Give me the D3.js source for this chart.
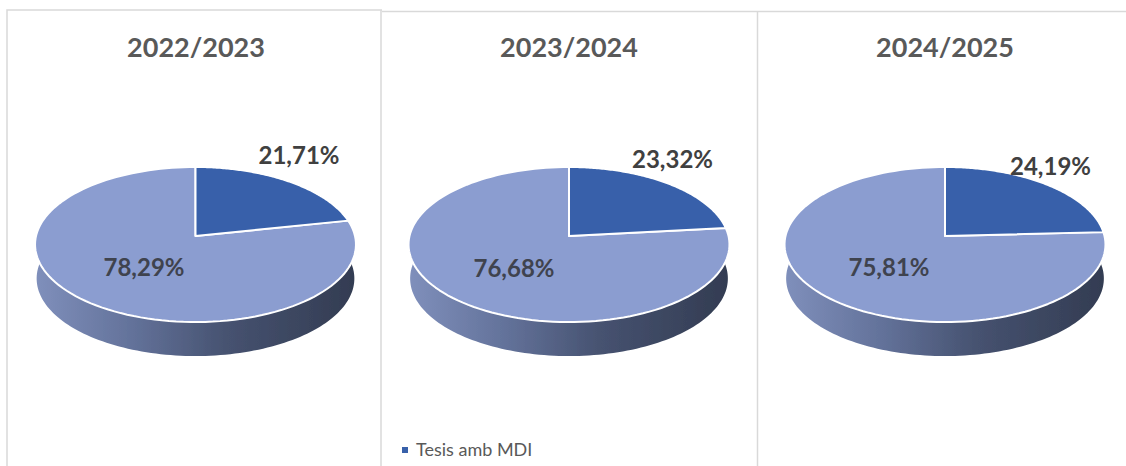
<!DOCTYPE html>
<html><head><meta charset="utf-8">
<script src="https://cdn.jsdelivr.net/npm/d3@7"></script>
<style>html,body{margin:0;padding:0;background:#fff}svg{display:block}</style></head>
<body><svg id="c" width="1126" height="466"></svg>
<script>
const years = ["2022/2023","2023/2024","2024/2025"];
const withMDI = [21.71,23.32,24.19];
const withoutMDI = [78.29,76.68,75.81];
const legendLabel = "Tesis amb MDI";
const pivotX = [195.5,569,945];
const titleX = [196,569,945];
const labelA = [[299,155],[672.5,159],[1050.5,166]];
const labelB = [[144,267],[514,268],[889,267]];
const fmt = v => v.toFixed(2).replace(".", ",") + "%";

const svg = d3.select("#c");
const defs = svg.append("defs");
const grad = defs.append("linearGradient").attr("id","side");
[[0,"#7f8fbb"],[.3,"#63729a"],[.6,"#465270"],[1,"#333c52"]].forEach(s=>grad.append("stop").attr("offset",s[0]).attr("stop-color",s[1]));
const blur = defs.append("filter").attr("id","soft");
blur.append("feGaussianBlur").attr("stdDeviation",.35);

// panel frame
const frame = svg.append("g").attr("stroke","#d9d9d9").attr("stroke-width",1.5).attr("fill","none");
frame.append("path").attr("d",d3.line()([[7,466],[7,10],[382,10]]));
frame.append("path").attr("d",d3.line()([[381,466],[381,10]]));
frame.append("path").attr("d",d3.line()([[382,11.5],[1126,11.5]]));
frame.append("path").attr("d",d3.line()([[757.5,466],[757.5,11]]));

// perspective disc
const k = .1097, a = 76.6, b = 159.5, cy = 236, depth = 34;
const proj = (cx,t,dy=0,sx=1) => {
  const X = Math.sin(t), Y = Math.cos(t), w = 1 + k*Y;
  return [cx + sx*b*X/w, cy - a*Y/w + dy];
};
const line = d3.line();
const sweep = (cx,t0,t1,dy=0,sx=1) => d3.range(0,121).map(i=>proj(cx,t0+(t1-t0)*i/120,dy,sx));
const pie = d3.pie().sort(null).value(d=>d);

years.forEach((yr,i)=>{
  const cx = pivotX[i];
  const g = svg.append("g").attr("filter","url(#soft)");
  const rim = sweep(cx,Math.PI/2-.12,Math.PI*1.5+.12,0,.99);
  const wall = rim.concat(sweep(cx,Math.PI*1.5+.12,Math.PI/2-.12,depth,.99));
  g.append("path").attr("d",line(wall)+"Z").attr("fill","url(#side)");
  const arcs = pie([withMDI[i],withoutMDI[i]]);
  const fills = ["#3861aa","#8b9dd0"];
  [1,0].forEach(j=>{
    const s = arcs[j];
    const pts = [[cx,cy]].concat(sweep(cx,s.startAngle,s.endAngle));
    g.append("path").attr("d",line(pts)+"Z").attr("fill",fills[j])
      .attr("stroke","#fff").attr("stroke-width",2).attr("stroke-linejoin","round");
  });
  svg.append("text").attr("x",titleX[i]).attr("y",57).attr("text-anchor","middle")
    .attr("font-family","Lato").attr("font-weight",700).attr("font-size",27).attr("fill","#595959").text(yr);
  svg.append("text").attr("x",labelA[i][0]).attr("y",labelA[i][1]).attr("dy",8.5).attr("text-anchor","middle")
    .attr("font-family","Lato").attr("font-weight",700).attr("font-size",24).attr("fill","#404040").text(fmt(withMDI[i]));
  svg.append("text").attr("x",labelB[i][0]).attr("y",labelB[i][1]).attr("dy",8.5).attr("text-anchor","middle")
    .attr("font-family","Lato").attr("font-weight",700).attr("font-size",24).attr("fill","#3f434e").text(fmt(withoutMDI[i]));
});

// legend
svg.append("rect").attr("x",402).attr("y",447).attr("width",6).attr("height",6).attr("fill","#3861aa");
svg.append("text").attr("x",416).attr("y",456).attr("font-family","Lato").attr("font-size",18).attr("fill","#595959").text(legendLabel);
</script></body></html>
